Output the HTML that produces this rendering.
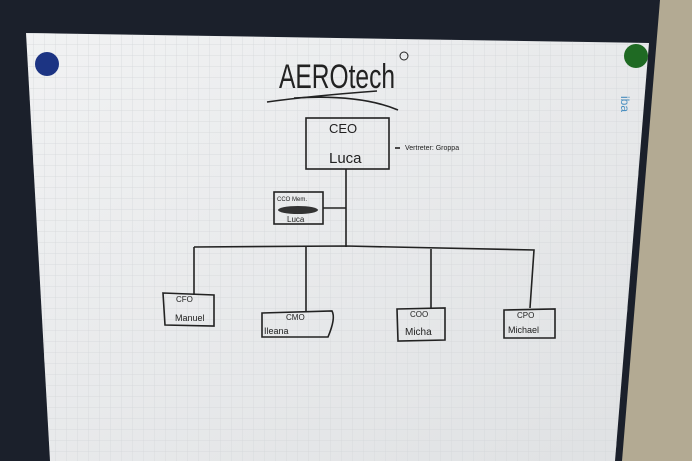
<!DOCTYPE html>
<html><head><meta charset="utf-8"><style>
html,body{margin:0;padding:0;width:692px;height:461px;overflow:hidden;background:#b3aa93}
svg{display:block}
text{font-family:"Liberation Sans",sans-serif;fill:#222}
</style></head><body>
<svg width="692" height="461" viewBox="0 0 692 461" xmlns="http://www.w3.org/2000/svg">
<defs>
<pattern id="g" width="11" height="11" patternUnits="userSpaceOnUse">
<path d="M11 0H0V11" fill="none" stroke="#d3d6d9" stroke-width="0.7"/>
</pattern>
<linearGradient id="p" x1="0" y1="0" x2="1" y2="1">
<stop offset="0" stop-color="#f1f2f3"/><stop offset="1" stop-color="#dfe1e3"/>
</linearGradient>
</defs>
<rect width="692" height="461" fill="#b3aa93"/>
<polygon points="0,0 660,0 622,461 0,461" fill="#1b202b"/>
<polygon points="26,33 649,43 615,461 50,461" fill="url(#p)"/>
<polygon points="26,33 649,43 615,461 50,461" fill="url(#g)"/>
<circle cx="47" cy="64" r="12" fill="#1c3483"/>
<circle cx="636" cy="56" r="12" fill="#1f6a23"/>
<text x="0" y="0" font-size="12" style="fill:#4a8fc0" transform="translate(621,96) rotate(90)">iba</text>
<g stroke="#222" fill="none" stroke-width="1.6">
<text x="279" y="88" font-size="34" textLength="116" lengthAdjust="spacingAndGlyphs" stroke="none">AEROtech</text>
<circle cx="404" cy="56" r="4" stroke-width="1"/>
<path d="M267 102 Q310 96 377 91"/>
<path d="M294 98 Q360 94 398 110"/>
<rect x="306" y="118" width="83" height="51"/>
<path d="M346 169V247"/>
<rect x="274" y="192" width="49" height="32"/>
<path d="M323 208H346"/>
<path d="M194 247L346 246L534 250L530 308"/>
<path d="M194 247V295M306 247V312M431 249V309"/>
<path d="M163 293L214 295L214 326L165 325Z"/>
<path d="M262 313L332 311Q336 318 328 337L262 337Z"/>
<path d="M397 309L445 308L445 340L398 341Z"/>
<path d="M504 310L555 309L555 338L504 338Z"/>
<path d="M395 148H400"/>
</g>
<text x="329" y="133" font-size="13">CEO</text>
<text x="329" y="163" font-size="15">Luca</text>
<text x="405" y="150" font-size="7">Vertreter: Groppa</text>
<text x="277" y="201" font-size="6">CCO Mem.</text>
<ellipse cx="298" cy="210" rx="20" ry="4" fill="#333"/>
<text x="287" y="222" font-size="8">Luca</text>
<text x="176" y="302" font-size="8">CFO</text>
<text x="175" y="321" font-size="9">Manuel</text>
<text x="286" y="320" font-size="8">CMO</text>
<text x="264" y="334" font-size="9">Ileana</text>
<text x="410" y="317" font-size="8">COO</text>
<text x="405" y="335" font-size="10">Micha</text>
<text x="517" y="318" font-size="8">CPO</text>
<text x="508" y="333" font-size="9">Michael</text>
</svg>
</body></html>
